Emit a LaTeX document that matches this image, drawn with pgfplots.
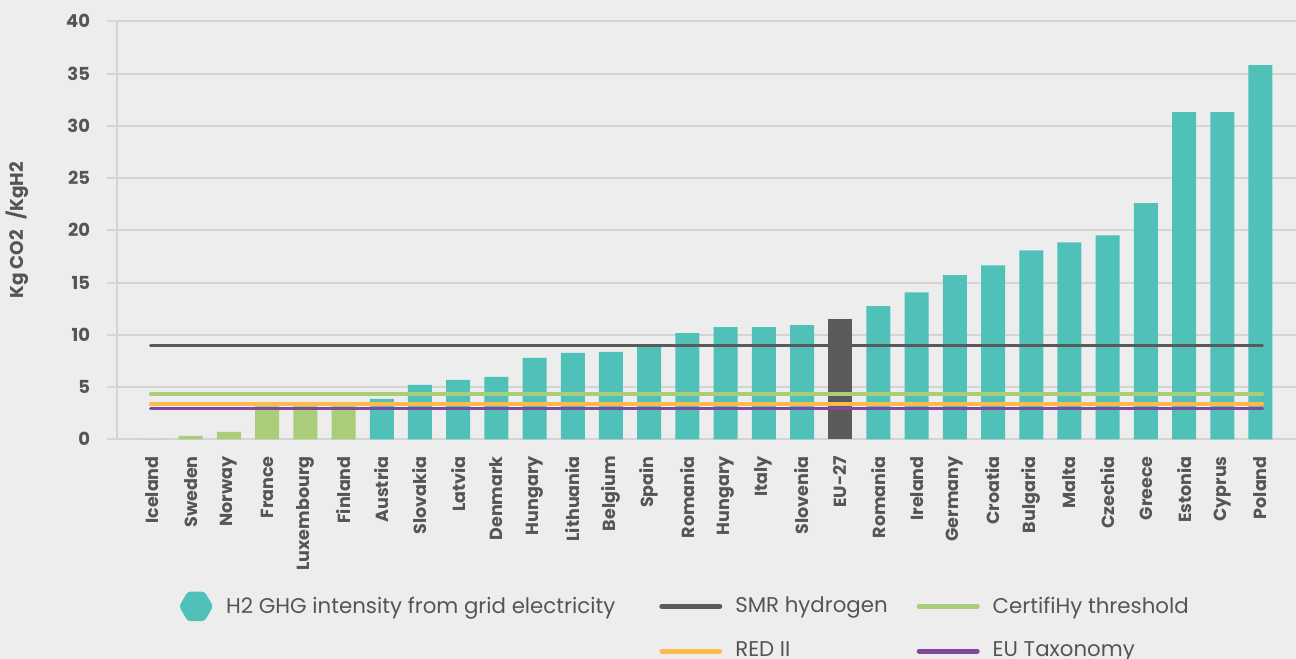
\documentclass[border=0pt]{standalone}
\usepackage{fontspec}
\setmainfont{Poppins}
\usepackage{pgfplots}
\pgfplotsset{compat=1.18}
\usetikzlibrary{shapes.geometric}
\definecolor{bgcol}{HTML}{EDEDED}
\definecolor{gridcol}{HTML}{D4D4D4}
\definecolor{txtcol}{HTML}{555555}
\definecolor{tealc}{HTML}{4FC1B9}
\definecolor{greenc}{HTML}{A9CD78}
\definecolor{darkc}{HTML}{5A5A5A}
\definecolor{orangec}{HTML}{FDBB4F}
\definecolor{purplec}{HTML}{7F4A9C}
\begin{document}
\begin{tikzpicture}
\fill[bgcol] (0,0) rectangle (648bp,329.5bp);
\useasboundingbox (0,0) rectangle (648bp,329.5bp);
\begin{axis}[
 at={(58.5bp,109.85bp)}, anchor=south west,
 scale only axis, width=589.5bp, height=209bp,
 xmin=-0.93, xmax=29.93, ymin=0, ymax=40,
 axis lines*=left,
 axis line style={gridcol, line width=1bp},
 ytick={0,5,...,40},
 ymajorgrids, grid style={gridcol, line width=1bp},
 tick align=outside, major tick length=5bp,
 ytick style={gridcol, line width=1bp},
 xtick={0,...,29}, xtick style={draw=none},
 xticklabels={Iceland,Sweden,Norway,France,Luxembourg,Finland,Austria,Slovakia,Latvia,Denmark,Hungary,Lithuania,Belgium,Spain,Romania,Hungary,Italy,Slovenia,EU-27,Romania,Ireland,Germany,Croatia,Bulgaria,Malta,Czechia,Greece,Estonia,Cyprus,Poland},
 xticklabel style={rotate=90, anchor=east, font=\bfseries\fontsize{8.8}{10}\selectfont, text=txtcol},
 yticklabel style={font=\bfseries\fontsize{9}{10}\selectfont, text=txtcol, xshift=-5bp},
 /pgf/number format/assume math mode=true,
 ylabel={Kg CO2\,\, /KgH2},
 ylabel style={font=\bfseries\fontsize{9.3}{10}\selectfont, text=txtcol, yshift=12bp},
 legend columns=3,
 legend cell align=left,
 legend style={at={(0.0325,-0.354)}, anchor=north west, draw=none, fill=none,
   font=\fontsize{10.7}{12}\selectfont, text=txtcol, row sep=8.5bp,
   /tikz/every even column/.append style={column sep=12.5bp},
   /tikz/every odd column/.append style={column sep=4.5bp}},
]
\addplot[ybar, bar width=12bp, bar shift=0pt, fill=greenc, draw=none, forget plot]
 coordinates {(0,0) (1,0.32) (2,0.7) (3,3.2) (4,3.2) (5,3.2)};
\addplot[ybar, bar width=12bp, bar shift=0pt, fill=tealc, draw=none,
 legend image code/.code={\node[regular polygon, regular polygon sides=6, fill=tealc, draw=none, inner sep=0pt, minimum size=17bp, rounded corners=1.5bp] at (8.5bp,0bp) {};}]
 coordinates {(6,3.87) (7,5.22) (8,5.69) (9,5.98) (10,7.8) (11,8.26) (12,8.36) (13,8.9) (14,10.16) (15,10.73) (16,10.73) (17,10.92)
 (19,12.74) (20,14.07) (21,15.7) (22,16.65) (23,18.08) (24,18.85) (25,19.52) (26,22.6) (27,31.3) (28,31.3) (29,35.8)};
\addlegendentry{H2 GHG intensity from grid electricity\hspace*{7.5bp}}
\addplot[ybar, bar width=12bp, bar shift=0pt, fill=darkc, draw=none, forget plot]
 coordinates {(18,11.5)};
\addplot[darkc, line width=1.7bp, line cap=round,
 legend image code/.code={\draw[line width=2.5bp, line cap=round] (0bp,0bp) -- (29bp,0bp);}]
 coordinates {(-0.05,9.0) (29.05,9.0)};
\addlegendentry{SMR hydrogen}
\addplot[greenc, line width=1.7bp, line cap=round,
 legend image code/.code={\draw[line width=2.5bp, line cap=round] (0bp,0bp) -- (29bp,0bp);}]
 coordinates {(-0.05,4.33) (29.05,4.33)};
\addlegendentry{CertifiHy threshold}
\addlegendimage{empty legend}
\addlegendentry{}
\addplot[orangec, line width=1.7bp, line cap=round,
 legend image code/.code={\draw[line width=2.5bp, line cap=round] (0bp,0bp) -- (29bp,0bp);}]
 coordinates {(-0.05,3.36) (29.05,3.36)};
\addlegendentry{RED II}
\addplot[purplec, line width=1.7bp, line cap=round,
 legend image code/.code={\draw[line width=2.5bp, line cap=round] (0bp,0bp) -- (29bp,0bp);}]
 coordinates {(-0.05,2.94) (29.05,2.94)};
\addlegendentry{EU Taxonomy}
\end{axis}
\end{tikzpicture}
\end{document}
